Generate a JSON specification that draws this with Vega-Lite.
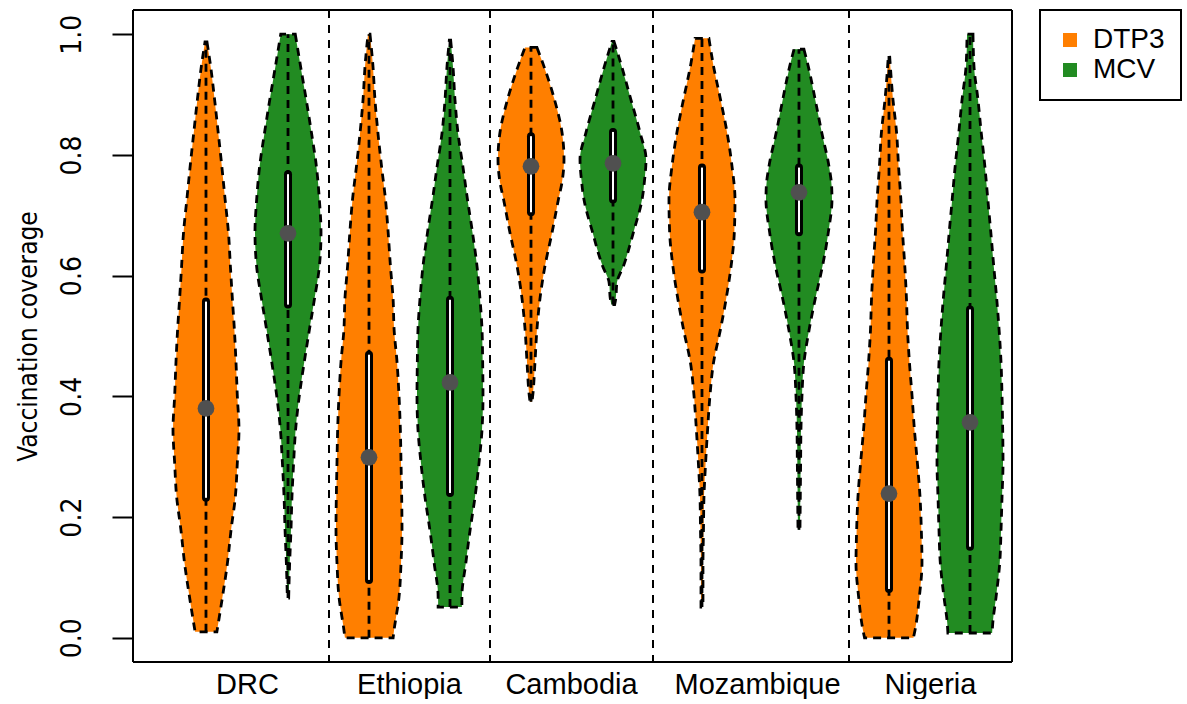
{
"$schema": "https://vega.github.io/schema/vega-lite/v6.json",
"padding": {"left": 15, "top": 9, "right": 0, "bottom": 0},
"spacing": 0,
"bounds": "flush",
"datasets": {
"stats": [
{"country":"DRC","vaccine":"DTP3","min":0.01,"q1":0.232,"median":0.38,"q3":0.557,"max":0.987},
{"country":"DRC","vaccine":"MCV","min":0.066,"q1":0.552,"median":0.67,"q3":0.768,"max":1.0},
{"country":"Ethiopia","vaccine":"DTP3","min":0,"q1":0.096,"median":0.299,"q3":0.469,"max":1.0},
{"country":"Ethiopia","vaccine":"MCV","min":0.051,"q1":0.24,"median":0.423,"q3":0.56,"max":0.99},
{"country":"Cambodia","vaccine":"DTP3","min":0.391,"q1":0.705,"median":0.781,"q3":0.831,"max":0.978},
{"country":"Cambodia","vaccine":"MCV","min":0.552,"q1":0.726,"median":0.786,"q3":0.838,"max":0.988},
{"country":"Mozambique","vaccine":"DTP3","min":0.051,"q1":0.61,"median":0.705,"q3":0.779,"max":0.993},
{"country":"Mozambique","vaccine":"MCV","min":0.179,"q1":0.672,"median":0.738,"q3":0.779,"max":0.975},
{"country":"Nigeria","vaccine":"DTP3","min":0,"q1":0.081,"median":0.239,"q3":0.459,"max":0.964},
{"country":"Nigeria","vaccine":"MCV","min":0.008,"q1":0.151,"median":0.357,"q3":0.544,"max":1.0}
],
"outline": [
{"country":"DRC","vaccine":"DTP3","value":0.01,"width":0.33},
{"country":"DRC","vaccine":"DTP3","value":0.068,"width":0.5},
{"country":"DRC","vaccine":"DTP3","value":0.124,"width":0.65},
{"country":"DRC","vaccine":"DTP3","value":0.179,"width":0.76},
{"country":"DRC","vaccine":"DTP3","value":0.234,"width":0.89},
{"country":"DRC","vaccine":"DTP3","value":0.29,"width":0.95},
{"country":"DRC","vaccine":"DTP3","value":0.345,"width":1.0},
{"country":"DRC","vaccine":"DTP3","value":0.4,"width":0.95},
{"country":"DRC","vaccine":"DTP3","value":0.456,"width":0.91},
{"country":"DRC","vaccine":"DTP3","value":0.511,"width":0.86},
{"country":"DRC","vaccine":"DTP3","value":0.561,"width":0.8},
{"country":"DRC","vaccine":"DTP3","value":0.615,"width":0.74},
{"country":"DRC","vaccine":"DTP3","value":0.672,"width":0.68},
{"country":"DRC","vaccine":"DTP3","value":0.726,"width":0.58},
{"country":"DRC","vaccine":"DTP3","value":0.781,"width":0.48},
{"country":"DRC","vaccine":"DTP3","value":0.837,"width":0.37},
{"country":"DRC","vaccine":"DTP3","value":0.892,"width":0.26},
{"country":"DRC","vaccine":"DTP3","value":0.947,"width":0.14},
{"country":"DRC","vaccine":"DTP3","value":0.987,"width":0.03},
{"country":"DRC","vaccine":"MCV","value":0.066,"width":0.02},
{"country":"DRC","vaccine":"MCV","value":0.124,"width":0.05},
{"country":"DRC","vaccine":"MCV","value":0.179,"width":0.09},
{"country":"DRC","vaccine":"MCV","value":0.234,"width":0.12},
{"country":"DRC","vaccine":"MCV","value":0.29,"width":0.17},
{"country":"DRC","vaccine":"MCV","value":0.345,"width":0.23},
{"country":"DRC","vaccine":"MCV","value":0.4,"width":0.34},
{"country":"DRC","vaccine":"MCV","value":0.456,"width":0.49},
{"country":"DRC","vaccine":"MCV","value":0.511,"width":0.65},
{"country":"DRC","vaccine":"MCV","value":0.561,"width":0.8},
{"country":"DRC","vaccine":"MCV","value":0.615,"width":0.95},
{"country":"DRC","vaccine":"MCV","value":0.672,"width":1.0},
{"country":"DRC","vaccine":"MCV","value":0.726,"width":0.95},
{"country":"DRC","vaccine":"MCV","value":0.781,"width":0.86},
{"country":"DRC","vaccine":"MCV","value":0.837,"width":0.71},
{"country":"DRC","vaccine":"MCV","value":0.892,"width":0.55},
{"country":"DRC","vaccine":"MCV","value":0.947,"width":0.38},
{"country":"DRC","vaccine":"MCV","value":1.0,"width":0.22},
{"country":"Ethiopia","vaccine":"DTP3","value":0,"width":0.73},
{"country":"Ethiopia","vaccine":"DTP3","value":0.013,"width":0.76},
{"country":"Ethiopia","vaccine":"DTP3","value":0.068,"width":0.91},
{"country":"Ethiopia","vaccine":"DTP3","value":0.124,"width":0.97},
{"country":"Ethiopia","vaccine":"DTP3","value":0.179,"width":1.0},
{"country":"Ethiopia","vaccine":"DTP3","value":0.234,"width":0.99},
{"country":"Ethiopia","vaccine":"DTP3","value":0.29,"width":0.97},
{"country":"Ethiopia","vaccine":"DTP3","value":0.345,"width":0.95},
{"country":"Ethiopia","vaccine":"DTP3","value":0.4,"width":0.91},
{"country":"Ethiopia","vaccine":"DTP3","value":0.456,"width":0.85},
{"country":"Ethiopia","vaccine":"DTP3","value":0.511,"width":0.76},
{"country":"Ethiopia","vaccine":"DTP3","value":0.561,"width":0.73},
{"country":"Ethiopia","vaccine":"DTP3","value":0.615,"width":0.65},
{"country":"Ethiopia","vaccine":"DTP3","value":0.672,"width":0.58},
{"country":"Ethiopia","vaccine":"DTP3","value":0.726,"width":0.5},
{"country":"Ethiopia","vaccine":"DTP3","value":0.781,"width":0.38},
{"country":"Ethiopia","vaccine":"DTP3","value":0.837,"width":0.27},
{"country":"Ethiopia","vaccine":"DTP3","value":0.892,"width":0.18},
{"country":"Ethiopia","vaccine":"DTP3","value":0.947,"width":0.12},
{"country":"Ethiopia","vaccine":"DTP3","value":1.0,"width":0.03},
{"country":"Ethiopia","vaccine":"MCV","value":0.051,"width":0.36},
{"country":"Ethiopia","vaccine":"MCV","value":0.068,"width":0.36},
{"country":"Ethiopia","vaccine":"MCV","value":0.124,"width":0.48},
{"country":"Ethiopia","vaccine":"MCV","value":0.179,"width":0.61},
{"country":"Ethiopia","vaccine":"MCV","value":0.234,"width":0.76},
{"country":"Ethiopia","vaccine":"MCV","value":0.29,"width":0.88},
{"country":"Ethiopia","vaccine":"MCV","value":0.345,"width":0.97},
{"country":"Ethiopia","vaccine":"MCV","value":0.4,"width":1.0},
{"country":"Ethiopia","vaccine":"MCV","value":0.456,"width":0.99},
{"country":"Ethiopia","vaccine":"MCV","value":0.511,"width":0.97},
{"country":"Ethiopia","vaccine":"MCV","value":0.561,"width":0.91},
{"country":"Ethiopia","vaccine":"MCV","value":0.615,"width":0.82},
{"country":"Ethiopia","vaccine":"MCV","value":0.672,"width":0.68},
{"country":"Ethiopia","vaccine":"MCV","value":0.726,"width":0.53},
{"country":"Ethiopia","vaccine":"MCV","value":0.781,"width":0.39},
{"country":"Ethiopia","vaccine":"MCV","value":0.837,"width":0.24},
{"country":"Ethiopia","vaccine":"MCV","value":0.892,"width":0.15},
{"country":"Ethiopia","vaccine":"MCV","value":0.947,"width":0.09},
{"country":"Ethiopia","vaccine":"MCV","value":0.99,"width":0.02},
{"country":"Cambodia","vaccine":"DTP3","value":0.391,"width":0.03},
{"country":"Cambodia","vaccine":"DTP3","value":0.4,"width":0.05},
{"country":"Cambodia","vaccine":"DTP3","value":0.456,"width":0.12},
{"country":"Cambodia","vaccine":"DTP3","value":0.511,"width":0.18},
{"country":"Cambodia","vaccine":"DTP3","value":0.561,"width":0.27},
{"country":"Cambodia","vaccine":"DTP3","value":0.615,"width":0.42},
{"country":"Cambodia","vaccine":"DTP3","value":0.672,"width":0.64},
{"country":"Cambodia","vaccine":"DTP3","value":0.726,"width":0.83},
{"country":"Cambodia","vaccine":"DTP3","value":0.755,"width":0.94},
{"country":"Cambodia","vaccine":"DTP3","value":0.793,"width":1.0},
{"country":"Cambodia","vaccine":"DTP3","value":0.837,"width":0.94},
{"country":"Cambodia","vaccine":"DTP3","value":0.892,"width":0.71},
{"country":"Cambodia","vaccine":"DTP3","value":0.947,"width":0.39},
{"country":"Cambodia","vaccine":"DTP3","value":0.978,"width":0.18},
{"country":"Cambodia","vaccine":"MCV","value":0.552,"width":0.05},
{"country":"Cambodia","vaccine":"MCV","value":0.561,"width":0.08},
{"country":"Cambodia","vaccine":"MCV","value":0.589,"width":0.12},
{"country":"Cambodia","vaccine":"MCV","value":0.615,"width":0.31},
{"country":"Cambodia","vaccine":"MCV","value":0.672,"width":0.62},
{"country":"Cambodia","vaccine":"MCV","value":0.726,"width":0.88},
{"country":"Cambodia","vaccine":"MCV","value":0.755,"width":0.95},
{"country":"Cambodia","vaccine":"MCV","value":0.793,"width":1.0},
{"country":"Cambodia","vaccine":"MCV","value":0.837,"width":0.82},
{"country":"Cambodia","vaccine":"MCV","value":0.892,"width":0.54},
{"country":"Cambodia","vaccine":"MCV","value":0.947,"width":0.26},
{"country":"Cambodia","vaccine":"MCV","value":0.988,"width":0.03},
{"country":"Mozambique","vaccine":"DTP3","value":0.051,"width":0.03},
{"country":"Mozambique","vaccine":"DTP3","value":0.124,"width":0.03},
{"country":"Mozambique","vaccine":"DTP3","value":0.179,"width":0.045},
{"country":"Mozambique","vaccine":"DTP3","value":0.234,"width":0.06},
{"country":"Mozambique","vaccine":"DTP3","value":0.29,"width":0.11},
{"country":"Mozambique","vaccine":"DTP3","value":0.345,"width":0.17},
{"country":"Mozambique","vaccine":"DTP3","value":0.4,"width":0.24},
{"country":"Mozambique","vaccine":"DTP3","value":0.456,"width":0.35},
{"country":"Mozambique","vaccine":"DTP3","value":0.511,"width":0.56},
{"country":"Mozambique","vaccine":"DTP3","value":0.561,"width":0.73},
{"country":"Mozambique","vaccine":"DTP3","value":0.615,"width":0.88},
{"country":"Mozambique","vaccine":"DTP3","value":0.672,"width":0.98},
{"country":"Mozambique","vaccine":"DTP3","value":0.726,"width":1.0},
{"country":"Mozambique","vaccine":"DTP3","value":0.781,"width":0.91},
{"country":"Mozambique","vaccine":"DTP3","value":0.837,"width":0.76},
{"country":"Mozambique","vaccine":"DTP3","value":0.892,"width":0.56},
{"country":"Mozambique","vaccine":"DTP3","value":0.947,"width":0.35},
{"country":"Mozambique","vaccine":"DTP3","value":0.993,"width":0.21},
{"country":"Mozambique","vaccine":"MCV","value":0.179,"width":0.03},
{"country":"Mozambique","vaccine":"MCV","value":0.29,"width":0.05},
{"country":"Mozambique","vaccine":"MCV","value":0.345,"width":0.06},
{"country":"Mozambique","vaccine":"MCV","value":0.4,"width":0.09},
{"country":"Mozambique","vaccine":"MCV","value":0.456,"width":0.15},
{"country":"Mozambique","vaccine":"MCV","value":0.511,"width":0.31},
{"country":"Mozambique","vaccine":"MCV","value":0.561,"width":0.49},
{"country":"Mozambique","vaccine":"MCV","value":0.615,"width":0.71},
{"country":"Mozambique","vaccine":"MCV","value":0.672,"width":0.89},
{"country":"Mozambique","vaccine":"MCV","value":0.726,"width":1.0},
{"country":"Mozambique","vaccine":"MCV","value":0.748,"width":0.99},
{"country":"Mozambique","vaccine":"MCV","value":0.781,"width":0.91},
{"country":"Mozambique","vaccine":"MCV","value":0.837,"width":0.69},
{"country":"Mozambique","vaccine":"MCV","value":0.892,"width":0.49},
{"country":"Mozambique","vaccine":"MCV","value":0.947,"width":0.28},
{"country":"Mozambique","vaccine":"MCV","value":0.975,"width":0.15},
{"country":"Nigeria","vaccine":"DTP3","value":0,"width":0.74},
{"country":"Nigeria","vaccine":"DTP3","value":0.013,"width":0.79},
{"country":"Nigeria","vaccine":"DTP3","value":0.068,"width":0.92},
{"country":"Nigeria","vaccine":"DTP3","value":0.124,"width":1.0},
{"country":"Nigeria","vaccine":"DTP3","value":0.179,"width":0.98},
{"country":"Nigeria","vaccine":"DTP3","value":0.234,"width":0.94},
{"country":"Nigeria","vaccine":"DTP3","value":0.29,"width":0.86},
{"country":"Nigeria","vaccine":"DTP3","value":0.345,"width":0.77},
{"country":"Nigeria","vaccine":"DTP3","value":0.4,"width":0.7},
{"country":"Nigeria","vaccine":"DTP3","value":0.456,"width":0.62},
{"country":"Nigeria","vaccine":"DTP3","value":0.511,"width":0.56},
{"country":"Nigeria","vaccine":"DTP3","value":0.561,"width":0.53},
{"country":"Nigeria","vaccine":"DTP3","value":0.615,"width":0.48},
{"country":"Nigeria","vaccine":"DTP3","value":0.672,"width":0.41},
{"country":"Nigeria","vaccine":"DTP3","value":0.726,"width":0.36},
{"country":"Nigeria","vaccine":"DTP3","value":0.781,"width":0.29},
{"country":"Nigeria","vaccine":"DTP3","value":0.837,"width":0.23},
{"country":"Nigeria","vaccine":"DTP3","value":0.892,"width":0.12},
{"country":"Nigeria","vaccine":"DTP3","value":0.964,"width":0.02},
{"country":"Nigeria","vaccine":"MCV","value":0.008,"width":0.67},
{"country":"Nigeria","vaccine":"MCV","value":0.025,"width":0.69},
{"country":"Nigeria","vaccine":"MCV","value":0.068,"width":0.79},
{"country":"Nigeria","vaccine":"MCV","value":0.124,"width":0.9},
{"country":"Nigeria","vaccine":"MCV","value":0.179,"width":0.94},
{"country":"Nigeria","vaccine":"MCV","value":0.234,"width":0.97},
{"country":"Nigeria","vaccine":"MCV","value":0.29,"width":1.0},
{"country":"Nigeria","vaccine":"MCV","value":0.345,"width":0.99},
{"country":"Nigeria","vaccine":"MCV","value":0.4,"width":0.97},
{"country":"Nigeria","vaccine":"MCV","value":0.456,"width":0.94},
{"country":"Nigeria","vaccine":"MCV","value":0.511,"width":0.88},
{"country":"Nigeria","vaccine":"MCV","value":0.561,"width":0.81},
{"country":"Nigeria","vaccine":"MCV","value":0.615,"width":0.72},
{"country":"Nigeria","vaccine":"MCV","value":0.672,"width":0.63},
{"country":"Nigeria","vaccine":"MCV","value":0.726,"width":0.54},
{"country":"Nigeria","vaccine":"MCV","value":0.781,"width":0.45},
{"country":"Nigeria","vaccine":"MCV","value":0.837,"width":0.34},
{"country":"Nigeria","vaccine":"MCV","value":0.892,"width":0.24},
{"country":"Nigeria","vaccine":"MCV","value":0.947,"width":0.12},
{"country":"Nigeria","vaccine":"MCV","value":1.0,"width":0.09}
]
},
"hconcat": [
{
"width": 196, "height": 652,
"resolve": {"scale": {"x": "independent"}},
"layer": [
{"layer": [
{"data": {"name": "outline"}, "transform": [{"filter": "datum.country === 'DRC' && datum.vaccine === 'DTP3'"}],
 "mark": {"type": "area", "orient": "horizontal", "interpolate": "monotone", "stroke": "black", "strokeWidth": 2.8, "strokeDash": [8, 6], "opacity": 1},
 "encoding": {
  "y": {"field": "value", "type": "quantitative", "scale": {"domain": [-0.04, 1.04], "nice": false, "zero": false},
    "axis": {"title": "Vaccination coverage", "values": [0, 0.2, 0.4, 0.6, 0.8, 1.0], "format": ".1f", "grid": false, "domain": false,
      "tickSize": 21, "tickWidth": 2, "tickColor": "black",
      "labelAngle": 270, "labelAlign": "center", "labelBaseline": "alphabetic", "labelPadding": 32,
      "labelFont": "Liberation Sans Narrow, DejaVu Sans Condensed, sans-serif", "labelFontSize": 28, "labelColor": "black", "labelFlush": false, "labelOverlap": false,
      "titleFont": "Liberation Sans Narrow, DejaVu Sans Condensed, sans-serif", "titleFontSize": 26, "titleFontWeight": "normal", "titleColor": "black",
      "titleAngle": 270, "titleBaseline": "alphabetic", "titleX": -97}},
  "x": {"field": "width", "type": "quantitative", "stack": "center", "scale": {"domain": [-0.606, 2.364], "nice": false, "zero": false}, "axis": null},
  "color": {"field": "vaccine", "type": "nominal", "scale": {"domain": ["DTP3", "MCV"], "range": ["#FF7F00", "#228B22"]}, "legend": {"title": null}}
 }},
{"data": {"name": "stats"}, "transform": [{"filter": "datum.country === 'DRC' && datum.vaccine === 'DTP3'"}],
 "layer": [
  {"mark": {"type": "rule", "color": "black", "strokeWidth": 2.8, "strokeDash": [8, 6]},
   "encoding": {"x": {"datum": 0.5, "type": "quantitative", "scale": {"domain": [-0.606, 2.364], "nice": false, "zero": false}, "axis": null},
     "y": {"field": "min", "type": "quantitative", "scale": {"domain": [-0.04, 1.04], "nice": false, "zero": false}}, "y2": {"field": "max"}}},
  {"mark": {"type": "rule", "color": "black", "strokeWidth": 8, "strokeCap": "round"},
   "encoding": {"x": {"datum": 0.5, "type": "quantitative", "scale": {"domain": [-0.606, 2.364], "nice": false, "zero": false}, "axis": null},
     "y": {"field": "q1", "type": "quantitative", "scale": {"domain": [-0.04, 1.04], "nice": false, "zero": false}}, "y2": {"field": "q3"}}},
  {"mark": {"type": "rule", "color": "white", "strokeWidth": 2, "strokeCap": "butt"},
   "encoding": {"x": {"datum": 0.5, "type": "quantitative", "scale": {"domain": [-0.606, 2.364], "nice": false, "zero": false}, "axis": null},
     "y": {"field": "q1", "type": "quantitative", "scale": {"domain": [-0.04, 1.04], "nice": false, "zero": false}}, "y2": {"field": "q3"}}},
  {"mark": {"type": "point", "filled": true, "color": "#505050", "size": 280, "opacity": 1},
   "encoding": {"x": {"datum": 0.5, "type": "quantitative", "scale": {"domain": [-0.606, 2.364], "nice": false, "zero": false}, "axis": null},
     "y": {"field": "median", "type": "quantitative", "scale": {"domain": [-0.04, 1.04], "nice": false, "zero": false}}}}
 ]}
]},
{"layer": [
{"data": {"name": "outline"}, "transform": [{"filter": "datum.country === 'DRC' && datum.vaccine === 'MCV'"}],
 "mark": {"type": "area", "orient": "horizontal", "interpolate": "monotone", "stroke": "black", "strokeWidth": 2.8, "strokeDash": [8, 6], "opacity": 1},
 "encoding": {
  "y": {"field": "value", "type": "quantitative", "scale": {"domain": [-0.04, 1.04], "nice": false, "zero": false}},
  "x": {"field": "width", "type": "quantitative", "stack": "center", "scale": {"domain": [-1.848, 1.121], "nice": false, "zero": false}, "axis": null},
  "color": {"field": "vaccine", "type": "nominal", "scale": {"domain": ["DTP3", "MCV"], "range": ["#FF7F00", "#228B22"]}, "legend": {"title": null}}
 }},
{"data": {"name": "stats"}, "transform": [{"filter": "datum.country === 'DRC' && datum.vaccine === 'MCV'"}],
 "layer": [
  {"mark": {"type": "rule", "color": "black", "strokeWidth": 2.8, "strokeDash": [8, 6]},
   "encoding": {"x": {"datum": 0.5, "type": "quantitative", "scale": {"domain": [-1.848, 1.121], "nice": false, "zero": false}, "axis": null},
     "y": {"field": "min", "type": "quantitative", "scale": {"domain": [-0.04, 1.04], "nice": false, "zero": false}}, "y2": {"field": "max"}}},
  {"mark": {"type": "rule", "color": "black", "strokeWidth": 8, "strokeCap": "round"},
   "encoding": {"x": {"datum": 0.5, "type": "quantitative", "scale": {"domain": [-1.848, 1.121], "nice": false, "zero": false}, "axis": null},
     "y": {"field": "q1", "type": "quantitative", "scale": {"domain": [-0.04, 1.04], "nice": false, "zero": false}}, "y2": {"field": "q3"}}},
  {"mark": {"type": "rule", "color": "white", "strokeWidth": 2, "strokeCap": "butt"},
   "encoding": {"x": {"datum": 0.5, "type": "quantitative", "scale": {"domain": [-1.848, 1.121], "nice": false, "zero": false}, "axis": null},
     "y": {"field": "q1", "type": "quantitative", "scale": {"domain": [-0.04, 1.04], "nice": false, "zero": false}}, "y2": {"field": "q3"}}},
  {"mark": {"type": "point", "filled": true, "color": "#505050", "size": 280, "opacity": 1},
   "encoding": {"x": {"datum": 0.5, "type": "quantitative", "scale": {"domain": [-1.848, 1.121], "nice": false, "zero": false}, "axis": null},
     "y": {"field": "median", "type": "quantitative", "scale": {"domain": [-0.04, 1.04], "nice": false, "zero": false}}}}
 ]}
]},
{"data": {"values": [{}]},
 "layer": [
  {"mark": {"type": "rule", "color": "black", "strokeWidth": 2}, "encoding": {"y": {"datum": 1.04, "type": "quantitative", "scale": {"domain": [-0.04, 1.04], "nice": false, "zero": false}}}},
  {"mark": {"type": "rule", "color": "black", "strokeWidth": 2}, "encoding": {"y": {"datum": -0.04, "type": "quantitative", "scale": {"domain": [-0.04, 1.04], "nice": false, "zero": false}}}},
  {"mark": {"type": "rule", "color": "black", "strokeWidth": 2}, "encoding": {"x": {"datum": 0, "type": "quantitative", "scale": {"domain": [0, 1], "nice": false, "zero": false}}}},
  {"mark": {"type": "rule", "color": "black", "strokeWidth": 2, "strokeDash": [8, 7]}, "encoding": {"x": {"datum": 1, "type": "quantitative", "scale": {"domain": [0, 1], "nice": false, "zero": false},
    "axis": {"title": "DRC", "labels": false, "ticks": false, "domain": false, "grid": false, "titleFont": "Liberation Sans", "titleFontSize": 29, "titleFontWeight": "normal", "titleColor": "black", "titleX": 114, "titleY": 31, "titleBaseline": "alphabetic", "titleAlign": "center"}}}}
 ]}
]
},
{
"width": 161, "height": 652,
"resolve": {"scale": {"x": "independent"}},
"layer": [
{"layer": [
{"data": {"name": "outline"}, "transform": [{"filter": "datum.country === 'Ethiopia' && datum.vaccine === 'DTP3'"}],
 "mark": {"type": "area", "orient": "horizontal", "interpolate": "monotone", "stroke": "black", "strokeWidth": 2.8, "strokeDash": [8, 6], "opacity": 1},
 "encoding": {
  "y": {"field": "value", "type": "quantitative", "scale": {"domain": [-0.04, 1.04], "nice": false, "zero": false}, "axis": null},
  "x": {"field": "width", "type": "quantitative", "stack": "center", "scale": {"domain": [-0.106, 2.333], "nice": false, "zero": false}, "axis": null},
  "color": {"field": "vaccine", "type": "nominal", "scale": {"domain": ["DTP3", "MCV"], "range": ["#FF7F00", "#228B22"]}, "legend": {"title": null}}
 }},
{"data": {"name": "stats"}, "transform": [{"filter": "datum.country === 'Ethiopia' && datum.vaccine === 'DTP3'"}],
 "layer": [
  {"mark": {"type": "rule", "color": "black", "strokeWidth": 2.8, "strokeDash": [8, 6]},
   "encoding": {"x": {"datum": 0.5, "type": "quantitative", "scale": {"domain": [-0.106, 2.333], "nice": false, "zero": false}, "axis": null},
     "y": {"field": "min", "type": "quantitative", "scale": {"domain": [-0.04, 1.04], "nice": false, "zero": false}, "axis": null}, "y2": {"field": "max"}}},
  {"mark": {"type": "rule", "color": "black", "strokeWidth": 8, "strokeCap": "round"},
   "encoding": {"x": {"datum": 0.5, "type": "quantitative", "scale": {"domain": [-0.106, 2.333], "nice": false, "zero": false}, "axis": null},
     "y": {"field": "q1", "type": "quantitative", "scale": {"domain": [-0.04, 1.04], "nice": false, "zero": false}, "axis": null}, "y2": {"field": "q3"}}},
  {"mark": {"type": "rule", "color": "white", "strokeWidth": 2, "strokeCap": "butt"},
   "encoding": {"x": {"datum": 0.5, "type": "quantitative", "scale": {"domain": [-0.106, 2.333], "nice": false, "zero": false}, "axis": null},
     "y": {"field": "q1", "type": "quantitative", "scale": {"domain": [-0.04, 1.04], "nice": false, "zero": false}, "axis": null}, "y2": {"field": "q3"}}},
  {"mark": {"type": "point", "filled": true, "color": "#505050", "size": 280, "opacity": 1},
   "encoding": {"x": {"datum": 0.5, "type": "quantitative", "scale": {"domain": [-0.106, 2.333], "nice": false, "zero": false}, "axis": null},
     "y": {"field": "median", "type": "quantitative", "scale": {"domain": [-0.04, 1.04], "nice": false, "zero": false}, "axis": null}}}
 ]}
]},
{"layer": [
{"data": {"name": "outline"}, "transform": [{"filter": "datum.country === 'Ethiopia' && datum.vaccine === 'MCV'"}],
 "mark": {"type": "area", "orient": "horizontal", "interpolate": "monotone", "stroke": "black", "strokeWidth": 2.8, "strokeDash": [8, 6], "opacity": 1},
 "encoding": {
  "y": {"field": "value", "type": "quantitative", "scale": {"domain": [-0.04, 1.04], "nice": false, "zero": false}, "axis": null},
  "x": {"field": "width", "type": "quantitative", "stack": "center", "scale": {"domain": [-1.333, 1.106], "nice": false, "zero": false}, "axis": null},
  "color": {"field": "vaccine", "type": "nominal", "scale": {"domain": ["DTP3", "MCV"], "range": ["#FF7F00", "#228B22"]}, "legend": {"title": null}}
 }},
{"data": {"name": "stats"}, "transform": [{"filter": "datum.country === 'Ethiopia' && datum.vaccine === 'MCV'"}],
 "layer": [
  {"mark": {"type": "rule", "color": "black", "strokeWidth": 2.8, "strokeDash": [8, 6]},
   "encoding": {"x": {"datum": 0.5, "type": "quantitative", "scale": {"domain": [-1.333, 1.106], "nice": false, "zero": false}, "axis": null},
     "y": {"field": "min", "type": "quantitative", "scale": {"domain": [-0.04, 1.04], "nice": false, "zero": false}, "axis": null}, "y2": {"field": "max"}}},
  {"mark": {"type": "rule", "color": "black", "strokeWidth": 8, "strokeCap": "round"},
   "encoding": {"x": {"datum": 0.5, "type": "quantitative", "scale": {"domain": [-1.333, 1.106], "nice": false, "zero": false}, "axis": null},
     "y": {"field": "q1", "type": "quantitative", "scale": {"domain": [-0.04, 1.04], "nice": false, "zero": false}, "axis": null}, "y2": {"field": "q3"}}},
  {"mark": {"type": "rule", "color": "white", "strokeWidth": 2, "strokeCap": "butt"},
   "encoding": {"x": {"datum": 0.5, "type": "quantitative", "scale": {"domain": [-1.333, 1.106], "nice": false, "zero": false}, "axis": null},
     "y": {"field": "q1", "type": "quantitative", "scale": {"domain": [-0.04, 1.04], "nice": false, "zero": false}, "axis": null}, "y2": {"field": "q3"}}},
  {"mark": {"type": "point", "filled": true, "color": "#505050", "size": 280, "opacity": 1},
   "encoding": {"x": {"datum": 0.5, "type": "quantitative", "scale": {"domain": [-1.333, 1.106], "nice": false, "zero": false}, "axis": null},
     "y": {"field": "median", "type": "quantitative", "scale": {"domain": [-0.04, 1.04], "nice": false, "zero": false}, "axis": null}}}
 ]}
]},
{"data": {"values": [{}]},
 "layer": [
  {"mark": {"type": "rule", "color": "black", "strokeWidth": 2}, "encoding": {"y": {"datum": 1.04, "type": "quantitative", "scale": {"domain": [-0.04, 1.04], "nice": false, "zero": false}, "axis": null}}},
  {"mark": {"type": "rule", "color": "black", "strokeWidth": 2}, "encoding": {"y": {"datum": -0.04, "type": "quantitative", "scale": {"domain": [-0.04, 1.04], "nice": false, "zero": false}, "axis": null}}},
  {"mark": {"type": "rule", "color": "black", "strokeWidth": 2, "strokeDash": [8, 7]}, "encoding": {"x": {"datum": 1, "type": "quantitative", "scale": {"domain": [0, 1], "nice": false, "zero": false},
    "axis": {"title": "Ethiopia", "labels": false, "ticks": false, "domain": false, "grid": false, "titleFont": "Liberation Sans", "titleFontSize": 29, "titleFontWeight": "normal", "titleColor": "black", "titleX": 80, "titleY": 31, "titleBaseline": "alphabetic", "titleAlign": "center"}}}}
 ]}
]
},
{
"width": 163, "height": 652,
"resolve": {"scale": {"x": "independent"}},
"layer": [
{"layer": [
{"data": {"name": "outline"}, "transform": [{"filter": "datum.country === 'Cambodia' && datum.vaccine === 'DTP3'"}],
 "mark": {"type": "area", "orient": "horizontal", "interpolate": "monotone", "stroke": "black", "strokeWidth": 2.8, "strokeDash": [8, 6], "opacity": 1},
 "encoding": {
  "y": {"field": "value", "type": "quantitative", "scale": {"domain": [-0.04, 1.04], "nice": false, "zero": false}, "axis": null},
  "x": {"field": "width", "type": "quantitative", "stack": "center", "scale": {"domain": [-0.121, 2.348], "nice": false, "zero": false}, "axis": null},
  "color": {"field": "vaccine", "type": "nominal", "scale": {"domain": ["DTP3", "MCV"], "range": ["#FF7F00", "#228B22"]}, "legend": {"title": null}}
 }},
{"data": {"name": "stats"}, "transform": [{"filter": "datum.country === 'Cambodia' && datum.vaccine === 'DTP3'"}],
 "layer": [
  {"mark": {"type": "rule", "color": "black", "strokeWidth": 2.8, "strokeDash": [8, 6]},
   "encoding": {"x": {"datum": 0.5, "type": "quantitative", "scale": {"domain": [-0.121, 2.348], "nice": false, "zero": false}, "axis": null},
     "y": {"field": "min", "type": "quantitative", "scale": {"domain": [-0.04, 1.04], "nice": false, "zero": false}, "axis": null}, "y2": {"field": "max"}}},
  {"mark": {"type": "rule", "color": "black", "strokeWidth": 8, "strokeCap": "round"},
   "encoding": {"x": {"datum": 0.5, "type": "quantitative", "scale": {"domain": [-0.121, 2.348], "nice": false, "zero": false}, "axis": null},
     "y": {"field": "q1", "type": "quantitative", "scale": {"domain": [-0.04, 1.04], "nice": false, "zero": false}, "axis": null}, "y2": {"field": "q3"}}},
  {"mark": {"type": "rule", "color": "white", "strokeWidth": 2, "strokeCap": "butt"},
   "encoding": {"x": {"datum": 0.5, "type": "quantitative", "scale": {"domain": [-0.121, 2.348], "nice": false, "zero": false}, "axis": null},
     "y": {"field": "q1", "type": "quantitative", "scale": {"domain": [-0.04, 1.04], "nice": false, "zero": false}, "axis": null}, "y2": {"field": "q3"}}},
  {"mark": {"type": "point", "filled": true, "color": "#505050", "size": 280, "opacity": 1},
   "encoding": {"x": {"datum": 0.5, "type": "quantitative", "scale": {"domain": [-0.121, 2.348], "nice": false, "zero": false}, "axis": null},
     "y": {"field": "median", "type": "quantitative", "scale": {"domain": [-0.04, 1.04], "nice": false, "zero": false}, "axis": null}}}
 ]}
]},
{"layer": [
{"data": {"name": "outline"}, "transform": [{"filter": "datum.country === 'Cambodia' && datum.vaccine === 'MCV'"}],
 "mark": {"type": "area", "orient": "horizontal", "interpolate": "monotone", "stroke": "black", "strokeWidth": 2.8, "strokeDash": [8, 6], "opacity": 1},
 "encoding": {
  "y": {"field": "value", "type": "quantitative", "scale": {"domain": [-0.04, 1.04], "nice": false, "zero": false}, "axis": null},
  "x": {"field": "width", "type": "quantitative", "stack": "center", "scale": {"domain": [-1.364, 1.106], "nice": false, "zero": false}, "axis": null},
  "color": {"field": "vaccine", "type": "nominal", "scale": {"domain": ["DTP3", "MCV"], "range": ["#FF7F00", "#228B22"]}, "legend": {"title": null}}
 }},
{"data": {"name": "stats"}, "transform": [{"filter": "datum.country === 'Cambodia' && datum.vaccine === 'MCV'"}],
 "layer": [
  {"mark": {"type": "rule", "color": "black", "strokeWidth": 2.8, "strokeDash": [8, 6]},
   "encoding": {"x": {"datum": 0.5, "type": "quantitative", "scale": {"domain": [-1.364, 1.106], "nice": false, "zero": false}, "axis": null},
     "y": {"field": "min", "type": "quantitative", "scale": {"domain": [-0.04, 1.04], "nice": false, "zero": false}, "axis": null}, "y2": {"field": "max"}}},
  {"mark": {"type": "rule", "color": "black", "strokeWidth": 8, "strokeCap": "round"},
   "encoding": {"x": {"datum": 0.5, "type": "quantitative", "scale": {"domain": [-1.364, 1.106], "nice": false, "zero": false}, "axis": null},
     "y": {"field": "q1", "type": "quantitative", "scale": {"domain": [-0.04, 1.04], "nice": false, "zero": false}, "axis": null}, "y2": {"field": "q3"}}},
  {"mark": {"type": "rule", "color": "white", "strokeWidth": 2, "strokeCap": "butt"},
   "encoding": {"x": {"datum": 0.5, "type": "quantitative", "scale": {"domain": [-1.364, 1.106], "nice": false, "zero": false}, "axis": null},
     "y": {"field": "q1", "type": "quantitative", "scale": {"domain": [-0.04, 1.04], "nice": false, "zero": false}, "axis": null}, "y2": {"field": "q3"}}},
  {"mark": {"type": "point", "filled": true, "color": "#505050", "size": 280, "opacity": 1},
   "encoding": {"x": {"datum": 0.5, "type": "quantitative", "scale": {"domain": [-1.364, 1.106], "nice": false, "zero": false}, "axis": null},
     "y": {"field": "median", "type": "quantitative", "scale": {"domain": [-0.04, 1.04], "nice": false, "zero": false}, "axis": null}}}
 ]}
]},
{"data": {"values": [{}]},
 "layer": [
  {"mark": {"type": "rule", "color": "black", "strokeWidth": 2}, "encoding": {"y": {"datum": 1.04, "type": "quantitative", "scale": {"domain": [-0.04, 1.04], "nice": false, "zero": false}, "axis": null}}},
  {"mark": {"type": "rule", "color": "black", "strokeWidth": 2}, "encoding": {"y": {"datum": -0.04, "type": "quantitative", "scale": {"domain": [-0.04, 1.04], "nice": false, "zero": false}, "axis": null}}},
  {"mark": {"type": "rule", "color": "black", "strokeWidth": 2, "strokeDash": [8, 7]}, "encoding": {"x": {"datum": 1, "type": "quantitative", "scale": {"domain": [0, 1], "nice": false, "zero": false},
    "axis": {"title": "Cambodia", "labels": false, "ticks": false, "domain": false, "grid": false, "titleFont": "Liberation Sans", "titleFontSize": 29, "titleFontWeight": "normal", "titleColor": "black", "titleX": 81, "titleY": 31, "titleBaseline": "alphabetic", "titleAlign": "center"}}}}
 ]}
]
},
{
"width": 196, "height": 652,
"resolve": {"scale": {"x": "independent"}},
"layer": [
{"layer": [
{"data": {"name": "outline"}, "transform": [{"filter": "datum.country === 'Mozambique' && datum.vaccine === 'DTP3'"}],
 "mark": {"type": "area", "orient": "horizontal", "interpolate": "monotone", "stroke": "black", "strokeWidth": 2.8, "strokeDash": [8, 6], "opacity": 1},
 "encoding": {
  "y": {"field": "value", "type": "quantitative", "scale": {"domain": [-0.04, 1.04], "nice": false, "zero": false}, "axis": null},
  "x": {"field": "width", "type": "quantitative", "stack": "center", "scale": {"domain": [-0.242, 2.727], "nice": false, "zero": false}, "axis": null},
  "color": {"field": "vaccine", "type": "nominal", "scale": {"domain": ["DTP3", "MCV"], "range": ["#FF7F00", "#228B22"]}, "legend": {"title": null}}
 }},
{"data": {"name": "stats"}, "transform": [{"filter": "datum.country === 'Mozambique' && datum.vaccine === 'DTP3'"}],
 "layer": [
  {"mark": {"type": "rule", "color": "black", "strokeWidth": 2.8, "strokeDash": [8, 6]},
   "encoding": {"x": {"datum": 0.5, "type": "quantitative", "scale": {"domain": [-0.242, 2.727], "nice": false, "zero": false}, "axis": null},
     "y": {"field": "min", "type": "quantitative", "scale": {"domain": [-0.04, 1.04], "nice": false, "zero": false}, "axis": null}, "y2": {"field": "max"}}},
  {"mark": {"type": "rule", "color": "black", "strokeWidth": 8, "strokeCap": "round"},
   "encoding": {"x": {"datum": 0.5, "type": "quantitative", "scale": {"domain": [-0.242, 2.727], "nice": false, "zero": false}, "axis": null},
     "y": {"field": "q1", "type": "quantitative", "scale": {"domain": [-0.04, 1.04], "nice": false, "zero": false}, "axis": null}, "y2": {"field": "q3"}}},
  {"mark": {"type": "rule", "color": "white", "strokeWidth": 2, "strokeCap": "butt"},
   "encoding": {"x": {"datum": 0.5, "type": "quantitative", "scale": {"domain": [-0.242, 2.727], "nice": false, "zero": false}, "axis": null},
     "y": {"field": "q1", "type": "quantitative", "scale": {"domain": [-0.04, 1.04], "nice": false, "zero": false}, "axis": null}, "y2": {"field": "q3"}}},
  {"mark": {"type": "point", "filled": true, "color": "#505050", "size": 280, "opacity": 1},
   "encoding": {"x": {"datum": 0.5, "type": "quantitative", "scale": {"domain": [-0.242, 2.727], "nice": false, "zero": false}, "axis": null},
     "y": {"field": "median", "type": "quantitative", "scale": {"domain": [-0.04, 1.04], "nice": false, "zero": false}, "axis": null}}}
 ]}
]},
{"layer": [
{"data": {"name": "outline"}, "transform": [{"filter": "datum.country === 'Mozambique' && datum.vaccine === 'MCV'"}],
 "mark": {"type": "area", "orient": "horizontal", "interpolate": "monotone", "stroke": "black", "strokeWidth": 2.8, "strokeDash": [8, 6], "opacity": 1},
 "encoding": {
  "y": {"field": "value", "type": "quantitative", "scale": {"domain": [-0.04, 1.04], "nice": false, "zero": false}, "axis": null},
  "x": {"field": "width", "type": "quantitative", "stack": "center", "scale": {"domain": [-1.712, 1.258], "nice": false, "zero": false}, "axis": null},
  "color": {"field": "vaccine", "type": "nominal", "scale": {"domain": ["DTP3", "MCV"], "range": ["#FF7F00", "#228B22"]}, "legend": {"title": null}}
 }},
{"data": {"name": "stats"}, "transform": [{"filter": "datum.country === 'Mozambique' && datum.vaccine === 'MCV'"}],
 "layer": [
  {"mark": {"type": "rule", "color": "black", "strokeWidth": 2.8, "strokeDash": [8, 6]},
   "encoding": {"x": {"datum": 0.5, "type": "quantitative", "scale": {"domain": [-1.712, 1.258], "nice": false, "zero": false}, "axis": null},
     "y": {"field": "min", "type": "quantitative", "scale": {"domain": [-0.04, 1.04], "nice": false, "zero": false}, "axis": null}, "y2": {"field": "max"}}},
  {"mark": {"type": "rule", "color": "black", "strokeWidth": 8, "strokeCap": "round"},
   "encoding": {"x": {"datum": 0.5, "type": "quantitative", "scale": {"domain": [-1.712, 1.258], "nice": false, "zero": false}, "axis": null},
     "y": {"field": "q1", "type": "quantitative", "scale": {"domain": [-0.04, 1.04], "nice": false, "zero": false}, "axis": null}, "y2": {"field": "q3"}}},
  {"mark": {"type": "rule", "color": "white", "strokeWidth": 2, "strokeCap": "butt"},
   "encoding": {"x": {"datum": 0.5, "type": "quantitative", "scale": {"domain": [-1.712, 1.258], "nice": false, "zero": false}, "axis": null},
     "y": {"field": "q1", "type": "quantitative", "scale": {"domain": [-0.04, 1.04], "nice": false, "zero": false}, "axis": null}, "y2": {"field": "q3"}}},
  {"mark": {"type": "point", "filled": true, "color": "#505050", "size": 280, "opacity": 1},
   "encoding": {"x": {"datum": 0.5, "type": "quantitative", "scale": {"domain": [-1.712, 1.258], "nice": false, "zero": false}, "axis": null},
     "y": {"field": "median", "type": "quantitative", "scale": {"domain": [-0.04, 1.04], "nice": false, "zero": false}, "axis": null}}}
 ]}
]},
{"data": {"values": [{}]},
 "layer": [
  {"mark": {"type": "rule", "color": "black", "strokeWidth": 2}, "encoding": {"y": {"datum": 1.04, "type": "quantitative", "scale": {"domain": [-0.04, 1.04], "nice": false, "zero": false}, "axis": null}}},
  {"mark": {"type": "rule", "color": "black", "strokeWidth": 2}, "encoding": {"y": {"datum": -0.04, "type": "quantitative", "scale": {"domain": [-0.04, 1.04], "nice": false, "zero": false}, "axis": null}}},
  {"mark": {"type": "rule", "color": "black", "strokeWidth": 2, "strokeDash": [8, 7]}, "encoding": {"x": {"datum": 1, "type": "quantitative", "scale": {"domain": [0, 1], "nice": false, "zero": false},
    "axis": {"title": "Mozambique", "labels": false, "ticks": false, "domain": false, "grid": false, "titleFont": "Liberation Sans", "titleFontSize": 29, "titleFontWeight": "normal", "titleColor": "black", "titleX": 104, "titleY": 31, "titleBaseline": "alphabetic", "titleAlign": "center"}}}}
 ]}
]
},
{
"width": 163, "height": 652,
"resolve": {"scale": {"x": "independent"}},
"layer": [
{"layer": [
{"data": {"name": "outline"}, "transform": [{"filter": "datum.country === 'Nigeria' && datum.vaccine === 'DTP3'"}],
 "mark": {"type": "area", "orient": "horizontal", "interpolate": "monotone", "stroke": "black", "strokeWidth": 2.8, "strokeDash": [8, 6], "opacity": 1},
 "encoding": {
  "y": {"field": "value", "type": "quantitative", "scale": {"domain": [-0.04, 1.04], "nice": false, "zero": false}, "axis": null},
  "x": {"field": "width", "type": "quantitative", "stack": "center", "scale": {"domain": [-0.106, 2.364], "nice": false, "zero": false}, "axis": null},
  "color": {"field": "vaccine", "type": "nominal", "scale": {"domain": ["DTP3", "MCV"], "range": ["#FF7F00", "#228B22"]}, "legend": {"title": null}}
 }},
{"data": {"name": "stats"}, "transform": [{"filter": "datum.country === 'Nigeria' && datum.vaccine === 'DTP3'"}],
 "layer": [
  {"mark": {"type": "rule", "color": "black", "strokeWidth": 2.8, "strokeDash": [8, 6]},
   "encoding": {"x": {"datum": 0.5, "type": "quantitative", "scale": {"domain": [-0.106, 2.364], "nice": false, "zero": false}, "axis": null},
     "y": {"field": "min", "type": "quantitative", "scale": {"domain": [-0.04, 1.04], "nice": false, "zero": false}, "axis": null}, "y2": {"field": "max"}}},
  {"mark": {"type": "rule", "color": "black", "strokeWidth": 8, "strokeCap": "round"},
   "encoding": {"x": {"datum": 0.5, "type": "quantitative", "scale": {"domain": [-0.106, 2.364], "nice": false, "zero": false}, "axis": null},
     "y": {"field": "q1", "type": "quantitative", "scale": {"domain": [-0.04, 1.04], "nice": false, "zero": false}, "axis": null}, "y2": {"field": "q3"}}},
  {"mark": {"type": "rule", "color": "white", "strokeWidth": 2, "strokeCap": "butt"},
   "encoding": {"x": {"datum": 0.5, "type": "quantitative", "scale": {"domain": [-0.106, 2.364], "nice": false, "zero": false}, "axis": null},
     "y": {"field": "q1", "type": "quantitative", "scale": {"domain": [-0.04, 1.04], "nice": false, "zero": false}, "axis": null}, "y2": {"field": "q3"}}},
  {"mark": {"type": "point", "filled": true, "color": "#505050", "size": 280, "opacity": 1},
   "encoding": {"x": {"datum": 0.5, "type": "quantitative", "scale": {"domain": [-0.106, 2.364], "nice": false, "zero": false}, "axis": null},
     "y": {"field": "median", "type": "quantitative", "scale": {"domain": [-0.04, 1.04], "nice": false, "zero": false}, "axis": null}}}
 ]}
]},
{"layer": [
{"data": {"name": "outline"}, "transform": [{"filter": "datum.country === 'Nigeria' && datum.vaccine === 'MCV'"}],
 "mark": {"type": "area", "orient": "horizontal", "interpolate": "monotone", "stroke": "black", "strokeWidth": 2.8, "strokeDash": [8, 6], "opacity": 1},
 "encoding": {
  "y": {"field": "value", "type": "quantitative", "scale": {"domain": [-0.04, 1.04], "nice": false, "zero": false}, "axis": null},
  "x": {"field": "width", "type": "quantitative", "stack": "center", "scale": {"domain": [-1.333, 1.136], "nice": false, "zero": false}, "axis": null},
  "color": {"field": "vaccine", "type": "nominal", "scale": {"domain": ["DTP3", "MCV"], "range": ["#FF7F00", "#228B22"]}, "legend": {"title": null}}
 }},
{"data": {"name": "stats"}, "transform": [{"filter": "datum.country === 'Nigeria' && datum.vaccine === 'MCV'"}],
 "layer": [
  {"mark": {"type": "rule", "color": "black", "strokeWidth": 2.8, "strokeDash": [8, 6]},
   "encoding": {"x": {"datum": 0.5, "type": "quantitative", "scale": {"domain": [-1.333, 1.136], "nice": false, "zero": false}, "axis": null},
     "y": {"field": "min", "type": "quantitative", "scale": {"domain": [-0.04, 1.04], "nice": false, "zero": false}, "axis": null}, "y2": {"field": "max"}}},
  {"mark": {"type": "rule", "color": "black", "strokeWidth": 8, "strokeCap": "round"},
   "encoding": {"x": {"datum": 0.5, "type": "quantitative", "scale": {"domain": [-1.333, 1.136], "nice": false, "zero": false}, "axis": null},
     "y": {"field": "q1", "type": "quantitative", "scale": {"domain": [-0.04, 1.04], "nice": false, "zero": false}, "axis": null}, "y2": {"field": "q3"}}},
  {"mark": {"type": "rule", "color": "white", "strokeWidth": 2, "strokeCap": "butt"},
   "encoding": {"x": {"datum": 0.5, "type": "quantitative", "scale": {"domain": [-1.333, 1.136], "nice": false, "zero": false}, "axis": null},
     "y": {"field": "q1", "type": "quantitative", "scale": {"domain": [-0.04, 1.04], "nice": false, "zero": false}, "axis": null}, "y2": {"field": "q3"}}},
  {"mark": {"type": "point", "filled": true, "color": "#505050", "size": 280, "opacity": 1},
   "encoding": {"x": {"datum": 0.5, "type": "quantitative", "scale": {"domain": [-1.333, 1.136], "nice": false, "zero": false}, "axis": null},
     "y": {"field": "median", "type": "quantitative", "scale": {"domain": [-0.04, 1.04], "nice": false, "zero": false}, "axis": null}}}
 ]}
]},
{"data": {"values": [{}]},
 "layer": [
  {"mark": {"type": "rule", "color": "black", "strokeWidth": 2}, "encoding": {"y": {"datum": 1.04, "type": "quantitative", "scale": {"domain": [-0.04, 1.04], "nice": false, "zero": false}, "axis": null}}},
  {"mark": {"type": "rule", "color": "black", "strokeWidth": 2}, "encoding": {"y": {"datum": -0.04, "type": "quantitative", "scale": {"domain": [-0.04, 1.04], "nice": false, "zero": false}, "axis": null}}},
  {"mark": {"type": "rule", "color": "black", "strokeWidth": 2}, "encoding": {"x": {"datum": 1, "type": "quantitative", "scale": {"domain": [0, 1], "nice": false, "zero": false},
    "axis": {"title": "Nigeria", "labels": false, "ticks": false, "domain": false, "grid": false, "titleFont": "Liberation Sans", "titleFontSize": 29, "titleFontWeight": "normal", "titleColor": "black", "titleX": 81, "titleY": 31, "titleBaseline": "alphabetic", "titleAlign": "center"}}}}
 ]}
]
}
],
"config": {
 "font": "Liberation Sans",
 "view": {"stroke": null},
 "axis": {"grid": false},
 "legend": {"orient": "right", "offset": 27, "padding": 16, "strokeColor": "black", "strokeWidth": 2,
   "symbolType": "square", "symbolSize": 196, "symbolStrokeWidth": 0, "symbolOpacity": 1,
   "labelFont": "Liberation Sans", "labelFontSize": 28, "labelColor": "black", "labelOffset": 9, "rowPadding": 2, "titlePadding": 0}
}
}
